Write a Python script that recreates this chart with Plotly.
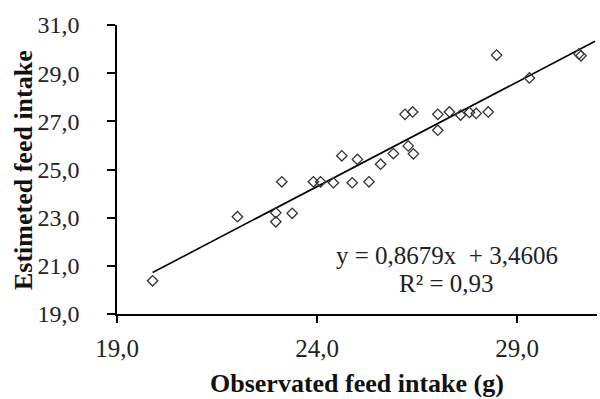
import plotly.graph_objects as go

# Observed vs estimated feed intake (g)
observed = [19.89, 22.01, 22.97, 22.97, 23.38, 23.12,
            23.91, 24.09, 24.41, 24.88, 25.30, 24.62, 25.01, 25.59, 25.91, 26.28, 26.41,
            26.20, 26.39, 27.02, 27.31, 27.59, 27.81, 27.98, 28.28, 27.02,
            28.49, 29.31, 30.55, 30.60]
estimated = [20.38, 23.04, 23.20, 22.83, 23.18, 24.49,
             24.49, 24.49, 24.45, 24.45, 24.49, 25.57, 25.42, 25.22, 25.66, 25.98, 25.65,
             27.29, 27.39, 27.29, 27.39, 27.26, 27.37, 27.33, 27.39, 26.63,
             29.75, 28.80, 29.80, 29.72]

slope = 0.8679
intercept = 3.4606
equation_text = "y = 0,8679x  + 3,4606"
r2_text = "R² = 0,93"
trend_x_end = 30.95

x_ticks = [19, 24, 29]
y_ticks = [19, 21, 23, 25, 27, 29, 31]

FONT = "Liberation Serif, Times New Roman, serif"

trend_x = [min(observed), trend_x_end]
trend_y = [slope * v + intercept for v in trend_x]

fig = go.Figure()
fig.add_trace(go.Scatter(x=trend_x, y=trend_y, mode="lines",
                         line=dict(color="black", width=1.6), showlegend=False))
fig.add_trace(go.Scatter(x=observed, y=estimated, mode="markers",
                         marker=dict(symbol="diamond-open", size=8,
                                     color="#333333", line=dict(width=1.3)),
                         showlegend=False))

fig.add_annotation(x=0.687, y=0.204, xref="paper", yref="paper",
                   text=equation_text, showarrow=False,
                   xanchor="center", yanchor="middle",
                   font=dict(family=FONT, size=25, color="#222222"))
fig.add_annotation(x=0.687, y=0.107, xref="paper", yref="paper",
                   text=r2_text, showarrow=False,
                   xanchor="center", yanchor="middle",
                   font=dict(family=FONT, size=25, color="#222222"))

# axis titles
fig.add_annotation(x=0.5, y=-0.239, xref="paper", yref="paper",
                   text="<b>Observated feed intake (g)</b>", showarrow=False,
                   xanchor="center", yanchor="middle",
                   font=dict(family=FONT, size=26, color="#111111"))
fig.add_annotation(x=-0.196, y=0.498, xref="paper", yref="paper",
                   text="<b>Estimeted feed intake</b>", showarrow=False,
                   textangle=-90, xanchor="center", yanchor="middle",
                   font=dict(family=FONT, size=26, color="#111111"))

fig.update_layout(
    width=600, height=399,
    margin=dict(l=117, r=3, t=25, b=85),
    paper_bgcolor="white", plot_bgcolor="white",
    separators=", ",
    font=dict(family=FONT, size=25, color="#222222"),
    xaxis=dict(range=[19, 31], tickvals=x_ticks, tickformat=".1f",
               showline=True, linecolor="black", linewidth=1.5,
               ticks="outside", ticklen=7, tickcolor="black", tickwidth=1.5,
               showgrid=False, zeroline=False, ticklabelstandoff=4,
               tickfont=dict(family=FONT, size=25, color="#222222")),
    yaxis=dict(range=[19, 31], tickvals=y_ticks, tickformat=".1f",
               showline=True, linecolor="black", linewidth=1.5,
               ticks="outside", ticklen=8, tickcolor="black", tickwidth=1.5,
               showgrid=False, zeroline=False, ticklabelstandoff=23,
               tickfont=dict(family=FONT, size=24, color="#222222")),
)

fig.write_html("out.html")
